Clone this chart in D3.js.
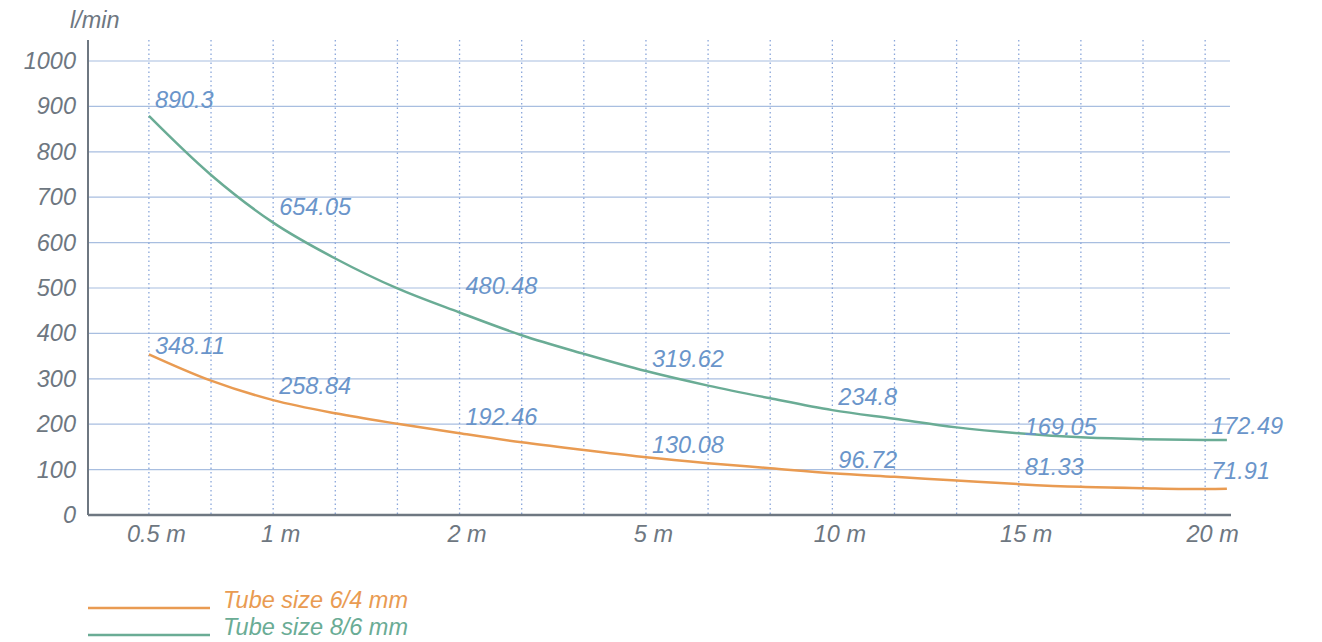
<!DOCTYPE html>
<html>
<head>
<meta charset="utf-8">
<script src="https://cdn.jsdelivr.net/npm/d3@7"></script>
<style>
  body { margin: 0; background: #fff; }
  svg text { font-family: "Liberation Sans", Arial, sans-serif; font-style: italic; }
</style>
</head>
<body>
<svg id="chart" width="1322" height="642"></svg>
<script>
// categories on the x axis (every dotted line is one step, labels on some)
var tickLabels = ["0.5 m", "1 m", "2 m", "5 m", "10 m", "15 m", "20 m"];
var tickIndex = [0, 2, 5, 8, 11, 14, 17];
var gridCount = 18;
var yTicks = [0, 100, 200, 300, 400, 500, 600, 700, 800, 900, 1000];

// labelled values per series
var small = [348.11, 258.84, 192.46, 130.08, 96.72, 81.33, 71.91];
var large = [890.3, 654.05, 480.48, 319.62, 234.8, 169.05, 172.49];

// trend curves read at each dotted line, last point is the right end of the plot
var trendIndex = [0,1,2,3,4,5,6,7,8,9,10,11,12,13,14,15,16,17,17.35];
var smallTrend = [354, 296, 253, 224, 201, 180, 160, 143, 127, 114, 103, 92, 84, 76, 68, 62, 59, 57, 58];
var largeTrend = [879, 749, 644, 565, 499, 446, 396, 355, 317, 285, 257, 231, 212, 193, 180, 171, 167, 165, 165];

var series = [
  {name: "Tube size 6/4 mm", color: "#e99b52", labels: small, trend: smallTrend},
  {name: "Tube size 8/6 mm", color: "#6aac95", labels: large, trend: largeTrend}
];

var fs = 23.5;

var svg = d3.select("#chart"),
  margin = {top: 40, left: 88, right: 92, bottom: 127},
  width = +svg.attr("width") - margin.left - margin.right,
  height = +svg.attr("height") - margin.top - margin.bottom;

var x = d3.scaleLinear().domain([-0.98, 17.4]).range([margin.left, margin.left + width]);
var y = d3.scaleLinear().domain([0, 1000]).range([515, 61]);

// horizontal grid
svg.append("g").selectAll("line")
  .data(yTicks.filter(function(d) { return d > 0; }))
  .enter().append("line")
  .attr("x1", margin.left).attr("x2", margin.left + width)
  .attr("y1", function(d) { return y(d); }).attr("y2", function(d) { return y(d); })
  .attr("stroke", "#a8bee0").attr("stroke-width", 1.2);

// dotted verticals
svg.append("g").selectAll("line")
  .data(d3.range(gridCount))
  .enter().append("line")
  .attr("x1", function(d) { return x(d); }).attr("x2", function(d) { return x(d); })
  .attr("y1", margin.top).attr("y2", y(0))
  .attr("stroke", "#8aa6da").attr("stroke-width", 1.3)
  .attr("stroke-dasharray", "1.5,3");

// axes
var yAxis = d3.axisLeft(y).tickValues(yTicks).tickSize(0).tickPadding(12).tickFormat(d3.format("d"));
var gy = svg.append("g").attr("transform", "translate(" + margin.left + ",0)").call(yAxis);
gy.select(".domain").attr("stroke", "#6e7781").attr("stroke-width", 2)
  .attr("d", "M0," + margin.top + "V" + y(0));
gy.selectAll("text").attr("font-size", fs).attr("fill", "#6e7781")
  .attr("font-family", null);

var xAxis = d3.axisBottom(x).tickValues(tickIndex).tickSize(0).tickPadding(10)
  .tickFormat(function(d, i) { return tickLabels[i]; });
var gx = svg.append("g").attr("transform", "translate(0," + y(0) + ")").call(xAxis);
gx.select(".domain").attr("stroke", "#6e7781").attr("stroke-width", 2.5)
  .attr("d", "M" + margin.left + ",0H" + (margin.left + width + 1));
gx.selectAll("text").attr("font-size", fs).attr("fill", "#6e7781")
  .attr("font-family", null).attr("dx", 7);

svg.append("text").attr("x", 70).attr("y", 28)
  .attr("font-size", fs).attr("fill", "#6e7781").text("l/min");

// curves
var line = d3.line()
  .x(function(d, i) { return x(trendIndex[i]); })
  .y(function(d) { return y(d); })
  .curve(d3.curveCatmullRom.alpha(0.5));

series.forEach(function(s) {
  svg.append("path")
    .datum(s.trend)
    .attr("fill", "none")
    .attr("stroke", s.color)
    .attr("stroke-width", 2.5)
    .attr("d", line);
});

// value labels
series.forEach(function(s) {
  svg.append("g").selectAll("text")
    .data(s.labels)
    .enter().append("text")
    .attr("x", function(d, i) { return x(tickIndex[i]) + 6; })
    .attr("y", function(d) { return y(d) - 3; })
    .attr("font-size", fs)
    .attr("fill", "#6a95ca")
    .text(function(d) { return d; });
});

// legend
var legend = svg.append("g").selectAll("g")
  .data(series).enter().append("g")
  .attr("transform", function(d, i) { return "translate(88," + (608 + i * 27) + ")"; });
legend.append("line").attr("x1", 0).attr("x2", 122)
  .attr("stroke", function(d) { return d.color; }).attr("stroke-width", 2.5);
legend.append("text").attr("x", 135).attr("y", 0)
  .attr("font-size", fs).attr("fill", function(d) { return d.color; })
  .text(function(d) { return d.name; });
</script>
</body>
</html>
